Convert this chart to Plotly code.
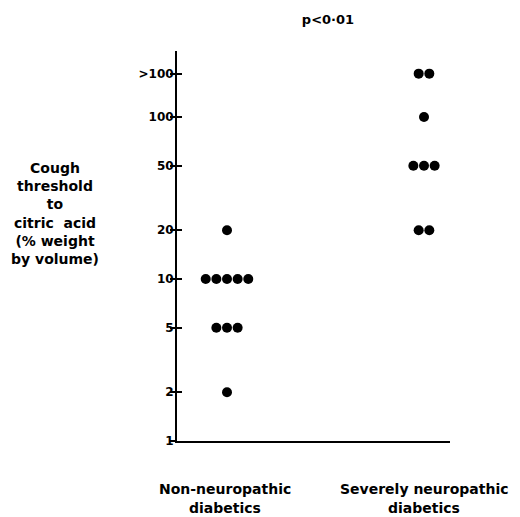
import plotly.graph_objects as go

# ---- data ----
group_lines = [["Non-neuropathic", "diabetics"], ["Severely neuropathic", "diabetics"]]
level_labels = ["1", "2", "5", "10", "20", "50", "100", ">100"]
level_values = [1, 2, 5, 10, 20, 50, 100, 185]   # ">100" drawn above 100
non_neuro_counts = [0, 1, 3, 5, 1, 0, 0, 0]
severe_counts = [0, 0, 0, 0, 2, 3, 1, 2]
title_text = "p<0·01"
y_title = "Cough<br>threshold<br>to<br>citric  acid<br>(% weight<br>by volume)"

FONT = "DejaVu Sans"
DOT_STEP = 0.054  # horizontal spacing between touching dots (x units)
OFF = 8           # page body margin offset
W, H = 520 - OFF, 517 - OFF

# target plot area (page pixels): x 177..450, y 51..441
L, R, T, B = 177, 450, 51, 441
PW, PH = R - L, B - T

fig = go.Figure()
for gi, counts in enumerate([non_neuro_counts, severe_counts]):
    xs, ys = [], []
    for val, n in zip(level_values, counts):
        for k in range(n):
            xs.append(gi + 1 + (k - (n - 1) / 2) * DOT_STEP)
            ys.append(val)
    fig.add_trace(go.Scatter(x=xs, y=ys, mode="markers",
                             marker=dict(size=10, color="black"),
                             showlegend=False, hoverinfo="skip"))
# empty trace so the overlaid tick axis (inner half of the cross ticks) is drawn
fig.add_trace(go.Scatter(x=[None], y=[None], yaxis="y2", mode="markers",
                         showlegend=False, hoverinfo="skip"))

yrange = [0, 2.407]
fig.update_layout(
    width=W, height=H,
    margin=dict(l=L - OFF, r=W - (R - OFF), t=T - OFF, b=H - (B - OFF)),
    paper_bgcolor="white", plot_bgcolor="white",
    font=dict(family=FONT, color="black", size=13, weight="bold"),
    title=dict(text=title_text, x=(328 - OFF) / W, xanchor="center",
               y=1 - (19 - OFF) / H, yanchor="middle",
               font=dict(family=FONT, size=13, color="black", weight="bold")),
    xaxis=dict(range=[1 - 50 / 197, 2 + 26 / 197], showticklabels=False,
               ticks="", showgrid=False, zeroline=False,
               showline=True, linecolor="black", linewidth=2),
    yaxis=dict(type="log", range=yrange, tickvals=level_values,
               ticktext=level_labels, ticks="outside", ticklen=5,
               tickwidth=2, tickcolor="black", showgrid=False,
               zeroline=False, showline=True, linecolor="black",
               linewidth=2, tickfont=dict(size=12, weight="bold"),
               ticklabelstandoff=-6),
    yaxis2=dict(type="log", range=yrange, overlaying="y", side="left",
                tickvals=level_values, ticks="inside", ticklen=5,
                tickwidth=2, tickcolor="black", showticklabels=False,
                showgrid=False, zeroline=False, showline=False),
)

# y-axis title block
fig.add_annotation(text=y_title, xref="paper", yref="paper",
                   x=(55 - L) / PW, y=(B - 213) / PH,
                   xanchor="center", yanchor="middle", showarrow=False,
                   align="center",
                   font=dict(family=FONT, size=14, color="black", weight="bold"))

# category labels under the axis
line_y = [489, 508]
line_shift = [-2, 0]
for gi, lines in enumerate(group_lines):
    for li, txt in enumerate(lines):
        fig.add_annotation(text=txt, x=gi + 1, xref="x", xshift=line_shift[gi],
                           yref="paper", y=(B - line_y[li]) / PH,
                           xanchor="center", yanchor="middle", showarrow=False,
                           font=dict(family=FONT, size=14, color="black",
                                     weight="bold"))

fig.write_html("out.html")
